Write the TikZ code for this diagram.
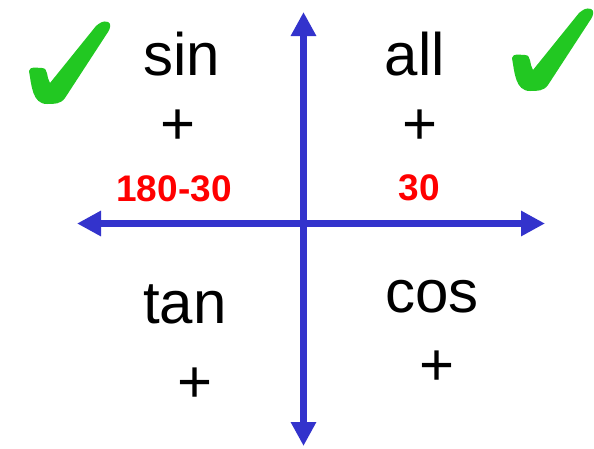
\documentclass[tikz,border=0pt]{standalone}
\usepackage{fontspec}
\setmainfont{Liberation Sans}
\usetikzlibrary{arrows.meta}
\definecolor{axisblue}{RGB}{51,51,204}
\definecolor{checkgreen}{RGB}{34,200,34}
\begin{document}
\begin{tikzpicture}[x=1pt,y=-1pt,
  axis/.style={draw=axisblue,line width=6.5pt,{Triangle[length=24pt,width=24pt]}-{Triangle[length=24pt,width=24pt]}},
  word/.style={inner sep=0pt,anchor=base,font=\fontsize{60}{60}\selectfont},
  redlab/.style={inner sep=0pt,anchor=base,text=red,font=\fontsize{37}{37}\selectfont\bfseries},
  tick/.pic={
    \fill[checkgreen] (0,1) to[out=0,in=235] (18,-5) -- (61,-71)
      to[out=55,in=-20] (61,-81) to[out=160,in=40] (49,-77) -- (3,-20)
      to[out=125,in=0] (-5,-35) to[out=180,in=80] (-18,-32)
      to[out=-80,in=180] (0,1) -- cycle;
  }]
\useasboundingbox (0,0) rectangle (594,448);
% axes
\coordinate (top) at (303.5,12);
\coordinate (bottom) at (303.5,446);
\coordinate (left) at (77,223.5);
\coordinate (right) at (545,223.5);
\draw[axis] (bottom) -- (top);
\draw[axis] (left) -- (right);
% words
\node[word] (sin) at (181.5,75) {sin};
\node[word] (sinplus) at (178,144) {+};
\node[word] (all) at (415,75) {all};
\node[word] (allplus) at (420,144) {+};
\node[word] (tan) at (185,323) {tan};
\node[word] (tanplus) at (195,402) {+};
\node[word] (cos) at (432,312) {cos};
\node[word] (cosplus) at (437,385) {+};
% red labels
\node[redlab] (l1) at (174,201) {180-30};
\node[redlab] (l2) at (419,200) {30};
% checks
\pic at (47,103) {tick};
\pic at (530,90) {tick};
\end{tikzpicture}
\end{document}
